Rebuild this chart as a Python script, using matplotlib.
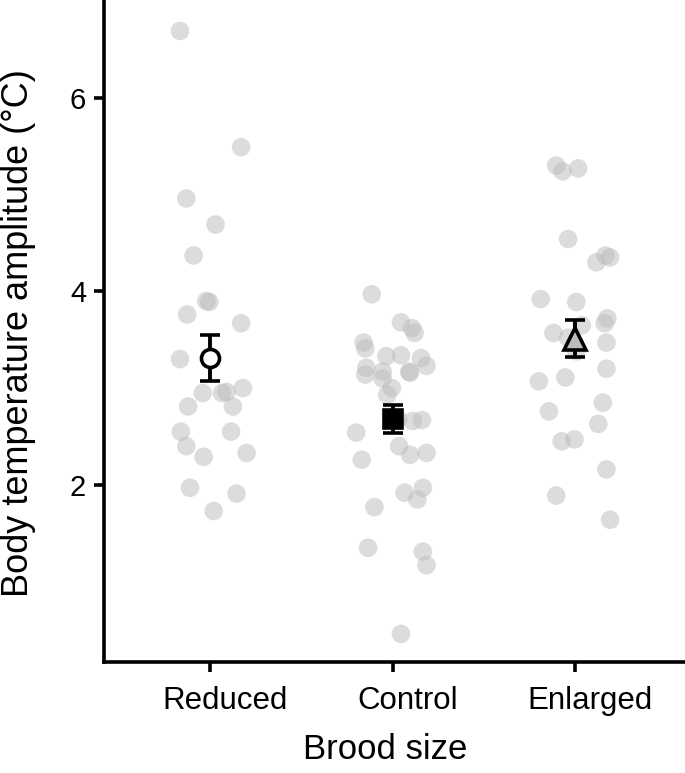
import matplotlib
matplotlib.use("Agg")
import matplotlib.pyplot as plt
import matplotlib.transforms as mtransforms

plt.rcParams["font.family"] = ["Liberation Sans", "DejaVu Sans"]

groups = ["Reduced", "Control", "Enlarged"]

reduced_vals = [6.69, 5.49, 4.96, 4.69, 4.37, 3.90, 3.89, 3.76, 3.67, 3.30, 2.95, 2.95,
                2.96, 3.00, 2.81, 2.81, 2.55, 2.55, 2.40, 2.29, 2.33, 1.97, 1.91, 1.73]
reduced_jit = [-0.165, 0.17, -0.13, 0.03, -0.09, -0.02, -0.005, -0.125, 0.17, -0.165, -0.04, 0.065,
               0.09, 0.18, -0.12, 0.125, -0.16, 0.115, -0.13, -0.035, 0.2, -0.11, 0.145, 0.02]

control_vals = [3.97, 3.68, 3.62, 3.57, 3.47, 3.41, 3.33, 3.34, 3.31, 3.23, 3.21, 3.14,
                3.17, 3.10, 3.17, 3.16, 3.00, 2.93, 2.68, 2.66, 2.67, 2.54, 2.26, 2.40,
                2.31, 2.33, 1.77, 1.92, 1.97, 1.85, 1.35, 1.31, 1.17, 0.46]
control_jit = [-0.115, 0.045, 0.105, 0.12, -0.16, -0.15, -0.035, 0.045, 0.155, 0.185, -0.145, -0.15,
               -0.055, -0.055, 0.09, 0.095, -0.005, -0.03, 0.03, 0.11, 0.16, -0.2, -0.17, 0.035,
               0.095, 0.185, -0.1, 0.065, 0.165, 0.135, -0.135, 0.165, 0.185, 0.045]

enlarged_vals = [5.30, 5.24, 5.27, 4.54, 4.37, 4.35, 4.30, 3.92, 3.89, 3.72, 3.67, 3.65,
                 3.57, 3.52, 3.47, 3.38, 3.20, 3.11, 3.07, 2.85, 2.76, 2.63, 2.47, 2.45,
                 2.16, 1.89, 1.64]
enlarged_jit = [-0.105, -0.07, 0.015, -0.04, 0.165, 0.19, 0.115, -0.19, 0.005, 0.175, 0.16, 0.035,
                -0.12, -0.04, 0.17, 0.005, 0.17, -0.055, -0.2, 0.15, -0.145, 0.125, -0.005, -0.075,
                0.17, -0.105, 0.19]

means = [3.31, 2.68, 3.51]
ses = [0.235, 0.145, 0.19]
mean_markers = ["o", "s", "^"]
mean_faces = ["white", "black", "#bdbdbd"]

fig = plt.figure(figsize=(6.85, 7.73), dpi=100)
ax = fig.add_axes([0.152, 0.1436, 0.848, 0.8564])

raw = [(reduced_vals, reduced_jit), (control_vals, control_jit), (enlarged_vals, enlarged_jit)]
for i, (vals, jit) in enumerate(raw):
    ax.scatter([i + j for j in jit], vals, s=180, color="#bbbbbb", alpha=0.5,
               edgecolors="none", zorder=2)

for i in range(3):
    ax.errorbar(i, means[i], yerr=ses[i], fmt=mean_markers[i], ms=13 if i != 2 else 16,
                mfc=mean_faces[i], mec="black", mew=2.6, ecolor="black", elinewidth=2.8,
                capsize=7, capthick=2.8, zorder=3)

ax.set_xlim(-0.58, 2.6)
ax.set_ylim(0.17, 7.01)
ax.set_yticks([2, 4, 6])
ax.set_xticks(range(3))
ax.set_xticklabels(groups)
for side in ["top", "right"]:
    ax.spines[side].set_visible(False)
for side in ["left", "bottom"]:
    ax.spines[side].set_linewidth(2.6)
ax.tick_params(axis="both", width=2.6, length=7)
ax.tick_params(axis="x", labelsize=22.5, pad=10)
ax.tick_params(axis="y", labelsize=21, pad=6)

# category labels sit a little right of their ticks in the original
shift = mtransforms.ScaledTranslation(0.15, 0, fig.dpi_scale_trans)
for lab in ax.get_xticklabels():
    lab.set_transform(lab.get_transform() + shift)

ax.set_xlabel("Brood size", fontsize=25)
ax.xaxis.set_label_coords(0.484, -0.107)
ax.set_ylabel("Body temperature amplitude (°C)", fontsize=26)
ax.yaxis.set_label_coords(-0.118, 0.497)

fig.savefig("out.png", dpi=100)
